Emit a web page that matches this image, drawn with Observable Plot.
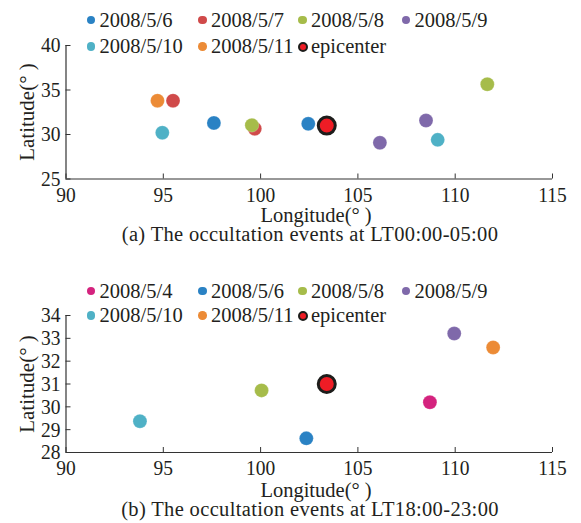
<!DOCTYPE html>
<html><head><meta charset="utf-8">
<script src="https://cdn.jsdelivr.net/npm/d3@7"></script>
<script src="https://cdn.jsdelivr.net/npm/@observablehq/plot@0.6"></script>
<style>
body{margin:0;background:#fff;}
#root{position:relative;width:581px;height:523px;overflow:hidden;font-family:"Liberation Serif","Times New Roman",serif;color:#231f20;}
.txt{position:absolute;font-family:"Liberation Serif","Times New Roman",serif;font-size:20px;line-height:17px;white-space:nowrap;}
.dot{position:absolute;border-radius:50%;box-sizing:border-box;}
svg{position:absolute;left:0;}
svg text{font-family:"Liberation Serif","Times New Roman",serif;}
</style></head><body><div id="root"></div>
<script>
// ---------- data ----------
const xTicks = [90, 95, 100, 105, 110, 115];
const yTicksA = [25, 30, 35, 40];
const yTicksB = [28, 29, 30, 31, 32, 33, 34];

const datesA  = ["2008/5/6", "2008/5/7", "2008/5/8", "2008/5/9", "2008/5/10", "2008/5/11"];
const colorsA = ["#2a82c4", "#d04a4a", "#a6bc4a", "#7f69aa", "#4fb1c6", "#ec8b36"];
const dateA = ["2008/5/6", "2008/5/6", "2008/5/7", "2008/5/7", "2008/5/8", "2008/5/8",
               "2008/5/9", "2008/5/9", "2008/5/10", "2008/5/10", "2008/5/11"];
const lonA  = [97.6, 102.45, 95.5, 99.7, 99.55, 111.65, 106.13, 108.5, 94.95, 109.1, 94.7];
const latA  = [31.3, 31.2, 33.8, 30.65, 31.05, 35.65, 29.07, 31.57, 30.2, 29.4, 33.8];

const datesB  = ["2008/5/4", "2008/5/6", "2008/5/8", "2008/5/9", "2008/5/10", "2008/5/11"];
const colorsB = ["#d4237e", "#2a82c4", "#a6bc4a", "#7f69aa", "#4fb1c6", "#ec8b36"];
const dateB = ["2008/5/4", "2008/5/6", "2008/5/8", "2008/5/9", "2008/5/10", "2008/5/11"];
const lonB  = [108.7, 102.35, 100.05, 109.95, 93.8, 111.95];
const latB  = [30.2, 28.62, 30.72, 33.21, 29.37, 32.6];

const epicenterLon = [103.4];
const epicenterLat = [31.0];
const epicenterLabel = "epicenter";

const xLabel = "Longitude(° )";
const yLabel = "Latitude(° )";
const captionA = "(a) The occultation events at LT00:00-05:00";
const captionB = "(b) The occultation events at LT18:00-23:00";

// ---------- drawing ----------
const root = document.getElementById("root");
const FONT = "'Liberation Serif','Times New Roman',serif";
const INK = "#231f20";
const W = 581, ML = 65.5, MR = 29;

function panel({top, height, marginTop, marginBottom, lon, lat, date, domain, range, yTicks}) {
  const data = lon.map((x, i) => ({lon: x, lat: lat[i], date: date[i]}));
  const epi = epicenterLon.map((x, i) => ({lon: x, lat: epicenterLat[i]}));
  const plotH = height - marginTop - marginBottom;
  const plotW = W - ML - MR;
  const yDom = [d3.min(yTicks), d3.max(yTicks)];
  const svg = Plot.plot({
    width: W, height, marginLeft: ML, marginRight: MR, marginTop, marginBottom,
    style: `font-family: ${FONT}; font-size: 19px; color: ${INK}; background: transparent; overflow: visible;`,
    x: {domain: [90, 115], label: null},
    y: {domain: yDom, label: null},
    color: {domain, range},
    marks: [
      Plot.ruleX([90], {stroke: "#333", strokeWidth: 1.2}),
      Plot.ruleY([yDom[0]], {stroke: "#333", strokeWidth: 1.2}),
      Plot.tickX(xTicks, {x: d => d, stroke: "#333", insetTop: plotH - 5}),
      Plot.tickY(yTicks, {y: d => d, stroke: "#333", insetRight: plotW - 5}),
      Plot.axisX({ticks: xTicks, tickFormat: d3.format("d"), tickSize: 0, tickPadding: 7.5, label: null, fontSize: 19.5}),
      Plot.axisY({ticks: yTicks, tickFormat: d3.format("d"), tickSize: 0, tickPadding: 5.5, label: null, fontSize: 19.5}),
      Plot.dot(data, {x: "lon", y: "lat", fill: "date", r: 7, stroke: "white", strokeOpacity: 0.35, strokeWidth: 0.6}),
      Plot.dot(epi, {x: "lon", y: "lat", fill: "#ee1c25", stroke: "#1d1d1b", strokeWidth: 3, r: 8.5})
    ]
  });
  // slightly taller tick glyphs, as in the reference
  d3.select(svg).selectAll("g[aria-label$='tick label'] text").each(function() {
    const t = this.getAttribute("transform");
    if (t) this.setAttribute("transform", t + " scale(1,1.1)");
  });
  svg.style.top = top + "px";
  root.appendChild(svg);
}

// place a text by its baseline
function text(str, x, baseline, {anchor = "start", size = 20, extra = {}} = {}) {
  const d = document.createElement("div");
  d.className = "txt";
  d.textContent = str;
  d.style.fontSize = size + "px";
  d.style.left = x + "px";
  const off = (17 - 1.107 * size) / 2 + 0.891 * size;
  d.style.top = (baseline - off) + "px";
  if (anchor === "middle") d.style.transform = "translateX(-50%)";
  Object.assign(d.style, extra);
  root.appendChild(d);
  return d;
}

function legend(rowY, items) {
  const colX = [91, 202.5, 302.5, 406];
  items.forEach(([label, color, epi], i) => {
    const cx = colX[i % 4], cy = rowY[Math.floor(i / 4)];
    const s = document.createElement("div");
    s.className = "dot";
    const r = epi ? 5 : 4.3;
    s.style.width = s.style.height = (2 * r) + "px";
    s.style.left = (cx - r) + "px";
    s.style.top = (cy - r) + "px";
    if (epi) { s.style.background = "#ee1c25"; s.style.border = "2.4px solid #1d1d1b"; }
    else s.style.background = color;
    root.appendChild(s);
    text(label, cx + 8.5, cy + 7, {size: 20.5});
  });
}

function ylabel(str, cy) {
  const d = document.createElement("div");
  d.className = "txt";
  d.textContent = str;
  d.style.fontSize = "21px";
  d.style.left = "26.5px";
  d.style.top = cy + "px";
  d.style.transform = "translate(-50%,-50%) rotate(-90deg)";
  root.appendChild(d);
}

// Panel (a)
panel({top: 0, height: 230, marginTop: 45, marginBottom: 51.5,
       lon: lonA, lat: latA, date: dateA, domain: datesA, range: colorsA, yTicks: yTicksA});
legend([20, 46.5], [...datesA.map((d, i) => [d, colorsA[i], false]), [epicenterLabel, null, true]]);
text(xLabel, 316, 222, {anchor: "middle", size: 20.5});
text(captionA, 310, 241.5, {anchor: "middle", size: 20.5, extra: {letterSpacing: "0.35px"}});
ylabel(yLabel, 111.75);

// Panel (b)
panel({top: 260, height: 222, marginTop: 55, marginBottom: 30,
       lon: lonB, lat: latB, date: dateB, domain: datesB, range: colorsB, yTicks: yTicksB});
legend([291, 315.5], [...datesB.map((d, i) => [d, colorsB[i], false]), [epicenterLabel, null, true]]);
text(xLabel, 316, 497, {anchor: "middle", size: 20.5});
text(captionB, 310, 516, {anchor: "middle", size: 20.5, extra: {letterSpacing: "0.35px"}});
ylabel(yLabel, 383.5);
</script>
</body></html>
